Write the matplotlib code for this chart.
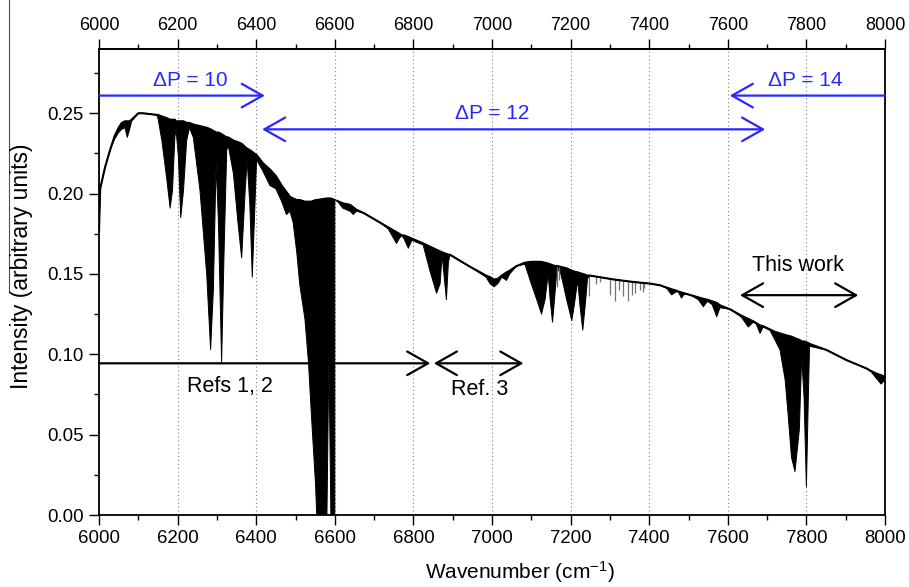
import numpy as np
import matplotlib
matplotlib.use("Agg")
import matplotlib.pyplot as plt
from matplotlib.lines import Line2D
from matplotlib.ticker import MultipleLocator, FormatStrFormatter

plt.rcParams['font.family'] = ['Liberation Sans', 'DejaVu Sans']
plt.rcParams['mathtext.default'] = 'regular'

# spectrum: continuum (upper) and bottom of the absorption (lower)
wavenumber = [6000, 6003, 6015, 6028, 6040, 6050, 6058, 6066, 6072, 6078,
              6083, 6100, 6112, 6147, 6150, 6160, 6172, 6181, 6187, 6193,
              6196, 6202, 6208, 6215, 6223, 6230, 6240, 6257, 6274, 6284,
              6291, 6298, 6304, 6312, 6318, 6325, 6329, 6342, 6354, 6363,
              6372, 6377, 6384, 6390, 6395, 6401, 6417, 6435, 6450, 6465,
              6477, 6486, 6494, 6503, 6511, 6524, 6533, 6541, 6551, 6554,
              6580, 6585, 6590, 6600, 6601, 6606, 6620, 6639, 6647, 6655,
              6673, 6715, 6736, 6750, 6757, 6764, 6770, 6776, 6787, 6796,
              6825, 6842, 6859, 6868, 6873, 6884, 6889, 6893, 6944, 6985,
              6995, 7005, 7015, 7025, 7037, 7045, 7063, 7084, 7097, 7114,
              7126, 7135, 7143, 7148, 7154, 7159, 7165, 7173, 7181, 7190,
              7203, 7209, 7218, 7224, 7231, 7237, 7243, 7249, 7309, 7360,
              7402, 7427, 7445, 7457, 7470, 7475, 7482, 7490, 7504, 7525,
              7538, 7548, 7560, 7572, 7580, 7606, 7635, 7652, 7665, 7672,
              7682, 7690, 7707, 7720, 7733, 7746, 7754, 7762, 7771, 7782,
              7788, 7794, 7800, 7805, 7808, 7852, 7902, 7953, 7965, 7978,
              7990, 8000]
upper = [0.177, 0.203, 0.216, 0.227, 0.236, 0.241, 0.244, 0.245, 0.245, 0.245,
         0.246, 0.250, 0.250, 0.249, 0.249, 0.248, 0.247, 0.246, 0.246, 0.246,
         0.245, 0.245, 0.245, 0.245, 0.244, 0.244, 0.243, 0.242, 0.241, 0.240,
         0.239, 0.238, 0.238, 0.237, 0.236, 0.235, 0.235, 0.233, 0.232, 0.231,
         0.229, 0.228, 0.227, 0.226, 0.225, 0.224, 0.219, 0.215, 0.211, 0.205,
         0.201, 0.198, 0.197, 0.196, 0.196, 0.195, 0.195, 0.195, 0.196, 0.196,
         0.197, 0.197, 0.197, 0.196, np.nan, 0.1955, 0.194, 0.193, 0.1915, 0.190,
         0.188, 0.182, 0.179, 0.177, 0.176, 0.175, 0.174, 0.174, 0.173, 0.172,
         0.169, 0.167, 0.165, 0.164, 0.1635, 0.1625, 0.162, 0.162, 0.1545, 0.149,
         0.148, 0.1465, 0.147, 0.149, 0.151, 0.152, 0.155, 0.157, 0.1575, 0.1576,
         0.1575, 0.157, 0.1565, 0.156, 0.1555, 0.155, 0.155, 0.1545, 0.154, 0.1535,
         0.152, 0.1515, 0.151, 0.1505, 0.150, 0.1495, 0.149, 0.149, 0.1466, 0.145,
         0.144, 0.143, 0.1415, 0.1405, 0.1395, 0.139, 0.1385, 0.138, 0.137, 0.1355,
         0.1345, 0.134, 0.133, 0.132, 0.1305, 0.128, 0.124, 0.122, 0.1205, 0.1195,
         0.118, 0.1175, 0.1155, 0.114, 0.113, 0.112, 0.1115, 0.111, 0.110, 0.109,
         0.108, 0.108, 0.1075, 0.107, 0.1065, 0.1026, 0.0964, 0.0912, 0.0895, 0.088,
         0.087, 0.086]
lower = [0.177, 0.203, 0.216, 0.227, 0.234, 0.238, 0.240, 0.241, 0.235, 0.240,
         0.245, 0.250, 0.250, 0.249, 0.247, 0.233, 0.210, 0.191, 0.202, 0.235,
         0.240, 0.223, 0.185, 0.202, 0.233, 0.241, 0.235, 0.202, 0.150, 0.103,
         0.140, 0.219, 0.182, 0.095, 0.161, 0.227, 0.230, 0.2125, 0.181, 0.160,
         0.202, 0.221, 0.192, 0.148, 0.181, 0.221, 0.214, 0.205, 0.203, 0.195,
         0.187, 0.189, 0.182, 0.164, 0.143, 0.122, 0.095, 0.060, 0.019, 0.0,
         0.0, 0.100, 0.0, 0.0, np.nan, 0.1955, 0.191, 0.189, 0.187, 0.189,
         0.188, 0.182, 0.178, 0.172, 0.169, 0.172, 0.174, 0.172, 0.166, 0.171,
         0.168, 0.152, 0.138, 0.144, 0.162, 0.134, 0.157, 0.162, 0.1545, 0.148,
         0.144, 0.142, 0.144, 0.148, 0.146, 0.150, 0.155, 0.156, 0.146, 0.134,
         0.125, 0.134, 0.150, 0.134, 0.120, 0.134, 0.152, 0.152, 0.144, 0.134,
         0.121, 0.130, 0.146, 0.130, 0.115, 0.130, 0.147, 0.149, 0.1466, 0.145,
         0.144, 0.143, 0.141, 0.137, 0.139, 0.1385, 0.135, 0.1375, 0.137, 0.134,
         0.1296, 0.133, 0.131, 0.1234, 0.129, 0.128, 0.123, 0.117, 0.120, 0.119,
         0.113, 0.117, 0.115, 0.109, 0.1026, 0.084, 0.061, 0.036, 0.027, 0.053,
         0.0985, 0.0736, 0.0176, 0.074, 0.105, 0.1026, 0.0964, 0.0912, 0.089, 0.085,
         0.0815, 0.084]

# weak single lines drawn in grey
line_wn = [7165, 7170, 7248, 7264, 7275, 7300, 7313, 7322, 7334, 7347,
           7355, 7364, 7377, 7383, 7386]
line_min = [0.142, 0.146, 0.136, 0.144, 0.145, 0.137, 0.133, 0.140, 0.136, 0.133,
            0.137, 0.138, 0.140, 0.139, 0.141]
line_top = [0.155, 0.1547, 0.149, 0.1482, 0.1478, 0.147, 0.1465, 0.1462, 0.1458, 0.1454,
            0.1451, 0.145, 0.1446, 0.1445, 0.1444]

blue = '#2828ff'

fig = plt.figure(figsize=(9.09, 5.87), dpi=100)
ax = fig.add_axes([99/909, 72/587, 786/909, 466/587])
ax.set_axisbelow(True)

wn = np.array(wavenumber)
up = np.array(upper)
lo = np.array(lower)
ax.fill_between(wn, lo, up, color='black', lw=0.7, edgecolor='black', zorder=2)
ax.plot(wn, up, color='black', lw=1.5, zorder=3)
ax.vlines(line_wn, line_min, line_top, color='0.45', lw=0.9, zorder=2)

ax.set_xlim(6000, 8000)
ax.set_ylim(0, 0.29)
ax.xaxis.set_major_locator(MultipleLocator(200))
ax.xaxis.set_minor_locator(MultipleLocator(100))
ax.yaxis.set_major_locator(MultipleLocator(0.05))
ax.yaxis.set_minor_locator(MultipleLocator(0.025))
ax.yaxis.set_major_formatter(FormatStrFormatter('%.2f'))
ax.tick_params(axis='x', which='both', direction='out', top=False)
ax.tick_params(axis='y', which='both', direction='out', right=False)
ax.tick_params(which='major', length=7, width=1.0, labelsize=13.4, pad=4)
ax.tick_params(which='minor', length=3.8, width=1.0)
for s in ax.spines.values():
    s.set_linewidth(1.3)
ax.grid(axis='x', which='major', color='0.5', ls=(0, (1, 2.5)), lw=0.8)

# top axis with its own label spacing
top = ax.secondary_xaxis('top')
top.xaxis.set_major_locator(MultipleLocator(200))
top.xaxis.set_minor_locator(MultipleLocator(100))
top.tick_params(which='major', direction='out', length=7, width=1.0, labelsize=13, pad=3.5)
top.tick_params(which='minor', direction='out', length=3.8, width=1.0)
top.spines['top'].set_linewidth(1.3)

def arrow(x0, x1, y, style, color):
    ax.annotate('', xy=(x1, y), xytext=(x0, y), annotation_clip=False,
                arrowprops=dict(arrowstyle=style + ',head_length=1.5,head_width=0.85',
                                color=color, lw=1.6, shrinkA=0, shrinkB=0,
                                mutation_scale=10))

arrow(6000, 6422, 0.261, '->', blue)
arrow(6415, 7695, 0.240, '<->', blue)
arrow(8000, 7605, 0.261, '->', blue)
arrow(6000, 6843, 0.0944, '->', 'black')
arrow(6852, 7080, 0.0944, '<->', 'black')
arrow(7631, 7932, 0.1368, '<->', 'black')

ax.text(6232, 0.2706, '\u0394P = 10', color=blue, fontsize=15, ha='center', va='center')
ax.text(7000, 0.2500, '\u0394P = 12', color=blue, fontsize=15, ha='center', va='center')
ax.text(7796, 0.2706, '\u0394P = 14', color=blue, fontsize=15, ha='center', va='center')
ax.text(6333, 0.0800, 'Refs 1, 2', fontsize=15.5, ha='center', va='center')
ax.text(6969, 0.0778, 'Ref. 3', fontsize=15.5, ha='center', va='center')
ax.text(7779, 0.1555, 'This work', fontsize=15.5, ha='center', va='center')

fig.text(520/909, 1 - 572/587, 'Wavenumber (cm$^{-1}$)', fontsize=15, ha='center', va='center')
fig.text(22/909, 1 - 266/587, 'Intensity (arbitrary units)', fontsize=16.5,
         ha='center', va='center', rotation=90)

# thin stray line at the far left of the original figure
fig.add_artist(Line2D([9/909, 9/909], [1, 1 - 292/587], transform=fig.transFigure,
                      color='0.3', lw=0.8))

fig.savefig('out.png', dpi=100)
